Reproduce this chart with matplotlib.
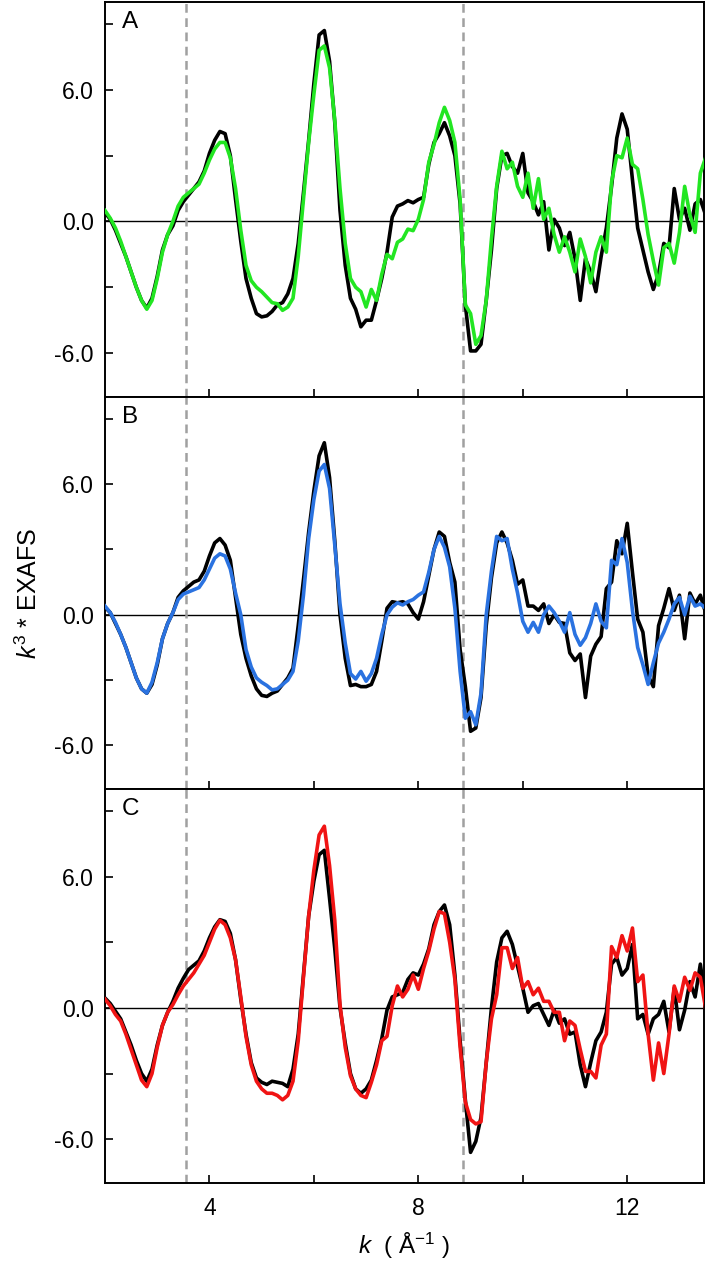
import numpy as np
import matplotlib
matplotlib.use("Agg")
import matplotlib.pyplot as plt
from matplotlib.ticker import FixedLocator, FormatStrFormatter

plt.rcParams['font.family'] = ['Liberation Sans', 'DejaVu Sans']
plt.rcParams['mathtext.fontset'] = 'custom'
plt.rcParams['mathtext.rm'] = 'Liberation Sans'
plt.rcParams['mathtext.it'] = 'Liberation Sans:italic'

# k grid (Å^-1), 2.0 .. 13.5 step 0.1
k = np.round(np.linspace(2.0, 13.5, 116), 2)

A_exp = [0.4, 0.1, -0.4, -1.0, -1.6, -2.3, -3.0, -3.6, -3.95, -3.5,
         -2.5, -1.3, -0.6, -0.2, 0.5, 0.9, 1.2, 1.5, 1.8, 2.3,
         3.1, 3.7, 4.1, 4.0, 3.0, 1.0, -0.9, -2.6, -3.5, -4.2,
         -4.35, -4.3, -4.1, -3.8, -3.7, -3.3, -2.6, -1.0, 1.3, 3.7,
         6.3, 8.5, 8.7, 7.3, 4.5, 0.5, -2.0, -3.5, -4.0, -4.8,
         -4.5, -4.5, -3.6, -2.6, -1.4, 0.2, 0.7, 0.8, 0.95, 0.85,
         1.0, 1.1, 2.6, 3.6, 4.0, 4.5, 3.9, 3.0, 0.8, -3.8,
         -5.9, -5.9, -5.6, -3.6, -1.3, 1.5, 3.0, 3.1, 2.5, 2.2,
         3.1, 1.3, 0.9, 0.3, 0.9, -1.3, 0.1, -0.3, -1.1, -0.5,
         -1.7, -3.6, -1.7, -2.3, -3.2, -1.6, -0.3, 1.6, 3.8, 4.9,
         4.2, 1.9, -0.3, -1.3, -2.3, -3.1, -2.4, -1.0, -1.2, 1.5,
         0.1, 0.6, -0.4, 0.8, 1.0, 0.3]

A_fit = [0.5, 0.15, -0.3, -0.9, -1.6, -2.3, -3.0, -3.6, -4.0, -3.6,
         -2.6, -1.4, -0.6, 0.0, 0.7, 1.1, 1.3, 1.5, 1.7, 2.2,
         2.8, 3.3, 3.6, 3.6, 2.9, 1.5, -0.4, -2.0, -2.7, -3.0,
         -3.2, -3.45, -3.7, -3.75, -4.05, -3.9, -3.5, -1.6, 1.0, 3.6,
         5.8, 7.8, 8.0, 7.0, 4.6, 1.5, -1.0, -2.6, -3.0, -3.2,
         -3.9, -3.1, -3.6, -2.4, -1.5, -1.7, -0.95, -0.8, -0.35, -0.42,
         0.1, 1.0, 2.7, 3.5, 4.5, 5.2, 4.6, 3.6, 1.0, -3.8,
         -4.2, -5.6, -5.2, -3.6, -0.8, 1.6, 3.2, 2.4, 2.7, 1.6,
         1.1, 2.2, 0.6, 1.95, 0.1, 0.6, -0.6, -1.4, -0.7, -1.4,
         -2.3, -0.8, -1.6, -2.8, -1.4, -0.7, -1.4, 1.8, 3.0, 2.9,
         3.8, 2.6, 2.4, 1.0, -0.6, -1.8, -2.9, -1.2, -1.0, -1.9,
         -0.5, 1.6, 0.3, -0.5, 2.2, 2.9]

B_exp = [0.35, 0.1, -0.4, -0.9, -1.5, -2.2, -2.9, -3.4, -3.6, -3.2,
         -2.3, -1.1, -0.4, 0.1, 0.8, 1.1, 1.3, 1.5, 1.6, 2.0,
         2.7, 3.3, 3.5, 3.2, 2.5, 0.8, -0.9, -2.0, -2.8, -3.4,
         -3.7, -3.75, -3.6, -3.5, -3.2, -2.9, -2.45, -0.5, 1.6, 3.8,
         5.7, 7.3, 7.9, 6.3, 3.4, 0.0, -2.0, -3.25, -3.2, -3.3,
         -3.3, -3.2, -2.6, -1.2, 0.3, 0.6, 0.55, 0.6, 0.5, 0.1,
         -0.2, 0.6, 1.8, 3.0, 3.8, 3.6, 2.4, 1.5, -1.6, -3.3,
         -5.35, -5.2, -3.8, -0.5, 1.7, 3.3, 3.8, 3.3, 2.5, 1.4,
         1.6, 0.4, 0.4, 0.2, 0.5, -0.4, 0.0, -0.35, -0.4, -1.75,
         -2.1, -1.8, -3.8, -1.9, -1.35, -1.0, 1.2, 1.5, 3.4, 2.8,
         4.2, 1.95, -0.2, -0.8, -2.8, -3.3, -0.5, 0.3, 1.2, 0.2,
         0.9, -1.1, 1.0, 0.5, 0.9, 0.1]

B_fit = [0.4, 0.1, -0.35, -0.9, -1.5, -2.2, -2.9, -3.4, -3.6, -3.1,
         -2.2, -1.1, -0.4, 0.1, 0.7, 0.95, 1.05, 1.15, 1.25, 1.6,
         2.1, 2.6, 2.8, 2.7, 2.1, 1.0, 0.0, -1.6, -2.4, -2.9,
         -3.1, -3.25, -3.45, -3.4, -3.2, -3.0, -2.6, -1.2, 0.9, 3.5,
         5.3, 6.6, 6.9, 5.8, 3.2, 0.5, -1.3, -2.7, -2.95, -2.6,
         -3.05, -2.7, -2.0, -0.9, 0.0, 0.35, 0.55, 0.45, 0.6, 0.7,
         0.9, 1.05, 1.95, 3.0, 3.6, 3.1, 2.2, 0.3, -2.6, -4.75,
         -4.45, -5.05, -3.6, 0.0, 2.0, 3.6, 3.4, 3.5, 2.1, 1.0,
         -0.3, -0.8, -0.35, -0.8, 0.0, 0.4, 0.1, -0.3, -0.8, 0.1,
         -0.9, -1.4, -1.05, -0.4, 0.5, -0.3, -0.6, 2.5, 2.3, 3.5,
         2.4, 0.2, -1.5, -2.3, -3.2, -2.2, -1.3, -0.8, -0.2, 0.5,
         0.8, 0.0, 0.85, 0.4, 0.5, 0.3]

C_exp = [0.45, 0.2, -0.15, -0.5, -1.1, -1.7, -2.4, -3.0, -3.35, -2.8,
         -1.7, -0.8, -0.2, 0.3, 0.9, 1.35, 1.75, 1.95, 2.15, 2.6,
         3.2, 3.7, 4.03, 3.95, 3.4, 2.2, 0.4, -1.2, -2.5, -3.2,
         -3.4, -3.5, -3.35, -3.4, -3.45, -3.6, -2.8, -1.2, 1.5, 4.2,
         5.8, 7.0, 7.2, 5.0, 2.7, 0.0, -1.6, -3.0, -3.7, -3.9,
         -3.7, -3.3, -2.4, -1.4, -0.1, 0.5, 0.6, 0.7, 1.3, 1.6,
         1.5, 2.0, 2.7, 3.8, 4.4, 4.7, 3.8, 1.5, -1.5, -4.2,
         -6.6, -6.1, -5.0, -2.5, 0.0, 2.1, 3.2, 3.5, 2.9, 1.9,
         0.9, -0.2, 0.1, 0.2, -0.3, -0.8, -0.1, -0.7, -0.5, -1.2,
         -1.1, -2.6, -3.6, -2.5, -1.5, -1.1, -0.2, 2.0, 2.3, 1.5,
         1.8, 2.9, -0.5, -0.3, -1.2, -0.5, -0.3, 0.3, -1.1, 0.9,
         -1.0, -0.1, 1.2, 0.5, 2.0, 0.3]

C_fit = [0.4, 0.1, -0.3, -0.6, -1.2, -1.9, -2.6, -3.3, -3.6, -3.0,
         -1.8, -0.8, -0.2, 0.15, 0.6, 1.0, 1.3, 1.6, 2.0, 2.4,
         3.0, 3.6, 4.0, 3.8, 3.2, 2.2, 0.5, -1.3, -2.6, -3.35,
         -3.7, -3.9, -3.9, -4.0, -4.2, -4.0, -3.35, -1.5, 1.4, 4.2,
         6.3, 7.9, 8.3, 6.5, 4.0, 0.15, -1.8, -3.1, -3.7, -4.0,
         -4.1, -3.4, -2.6, -1.5, -1.3, 0.1, 1.0, 0.5, 0.85, 1.5,
         0.85, 1.8, 2.6, 3.6, 4.4, 4.3, 3.0, 1.3, -1.8, -4.3,
         -5.1, -5.3, -5.2, -2.5, -0.5, 0.6, 2.75, 2.75, 1.8, 2.3,
         0.9, 1.2, 0.6, 0.9, 0.3, 0.3, -0.2, -0.2, -1.5, -0.6,
         -0.8, -1.9, -2.9, -2.9, -3.2, -1.7, -1.2, 2.8, 2.3, 3.3,
         2.6, 3.65, 1.2, 1.5, -1.2, -3.3, -1.6, -3.0, -1.2, 1.0,
         0.3, 1.4, 0.8, 1.6, 1.4, 0.0]

panel_labels = ["A", "B", "C"]
fit_colors = ["#22e622", "#2a72e0", "#f01414"]
dashed_k = [3.55, 8.86]
x_major = [4, 8, 12]
x_minor = [6, 10]
y_major = [-6, 0, 6]
y_minor = [-3, 3, 9]

fig = plt.figure(figsize=(7.07, 12.64), dpi=100)
left, right = 105 / 707, 704 / 707
bounds = [(2, 397), (397, 789), (789, 1183)]
axes = []
for (t, b) in bounds:
    ax = fig.add_axes([left, 1 - b / 1264, right - left, (b - t) / 1264])
    axes.append(ax)

series = [(A_exp, A_fit), (B_exp, B_fit), (C_exp, C_fit)]
for i, ax in enumerate(axes):
    exp, fit = series[i]
    ax.axhline(0, color='black', lw=1.0, zorder=1)
    for xd in dashed_k:
        ax.axvline(xd, color='#a0a0a0', lw=1.8, ls=(0, (3.5, 2.2)), zorder=1)
    ax.plot(k, exp, color='black', lw=2.6, zorder=2)
    ax.plot(k, fit, color=fit_colors[i], lw=2.6, zorder=3)
    ax.set_xlim(2.0, 13.47)
    ax.set_ylim(-8.0, 10.0)
    ax.xaxis.set_major_locator(FixedLocator(x_major))
    ax.xaxis.set_minor_locator(FixedLocator(x_minor))
    ax.yaxis.set_major_locator(FixedLocator(y_major))
    ax.yaxis.set_minor_locator(FixedLocator(y_minor))
    ax.yaxis.set_major_formatter(FormatStrFormatter('%.1f'))
    ax.tick_params(which='both', direction='in', length=6, width=1.2,
                   labelsize=16.5, top=False, right=False)
    ax.tick_params(axis='y', which='both', pad=8)
    ax.tick_params(axis='x', which='both', pad=10)
    for sp in ax.spines.values():
        sp.set_linewidth(1.4)
    ax.text(0.028, 0.978, panel_labels[i], transform=ax.transAxes,
            ha='left', va='top', fontsize=17.5)
    if i < 2:
        ax.tick_params(axis='x', labelbottom=False)

axes[1].set_ylabel(r'$k^3$ * EXAFS', fontsize=18, labelpad=9)
axes[2].set_xlabel(r'$k$  ( Å$^{-1}$ )', fontsize=17.5, labelpad=8)

fig.savefig("out.png", dpi=100)
